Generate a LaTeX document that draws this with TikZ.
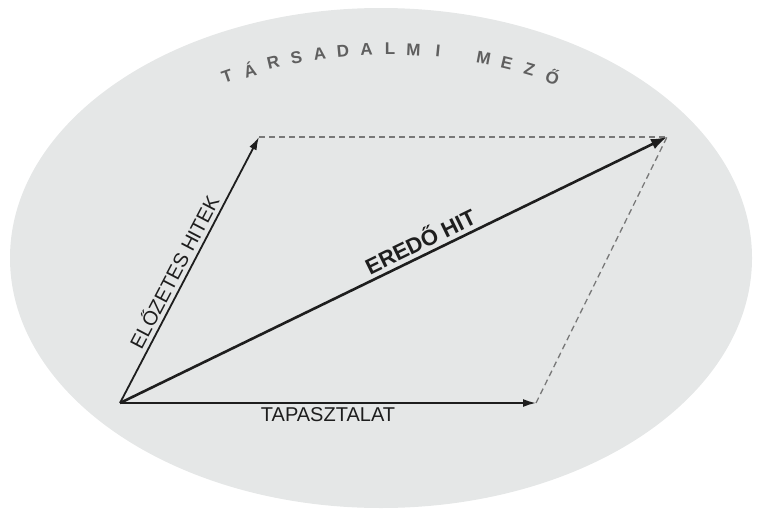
\documentclass[tikz,border=0pt]{standalone}
\usepackage{fontspec}
\setmainfont{Liberation Sans}
\usetikzlibrary{arrows.meta}
\definecolor{field}{RGB}{229,231,231}
\definecolor{ink}{RGB}{30,30,30}
\definecolor{titlegray}{RGB}{95,95,95}
\definecolor{dashgray}{RGB}{120,120,120}
\tikzset{
  vec/.style={draw=ink, line width=1.8pt, -{Latex[length=13pt,width=8pt]}},
  resvec/.style={draw=ink, line width=2.6pt, -{Latex[length=16pt,width=11pt]}},
  guide/.style={draw=dashgray, line width=1.3pt, dash pattern=on 6pt off 4pt},
  lbl/.style={font=\fontsize{20}{22}\selectfont, text=ink, inner sep=4pt},
  reslbl/.style={font=\bfseries\fontsize{22}{24}\selectfont, text=ink, inner sep=4pt},
  titleletter/.style={font=\bfseries\fontsize{17}{18}\selectfont, text=titlegray, inner sep=0pt}
}
\begin{document}
\begin{tikzpicture}[x=1pt,y=-1pt]
\useasboundingbox (0,0) rectangle (759,514);
\fill[field] (381,258) ellipse [x radius=371, y radius=250];
% title letters along an arc
\foreach \ch/\a in {T/-19, Á/-16.3, R/-13.5, S/-10.8, A/-8.1, D/-5.4, A/-2.7, L/0, M/2.7, I/5.5, M/10.8, E/13.5, Z/16.2, Ő/19}{
  \node[titleletter, rotate=-\a] at ({390+500*sin(\a)}, {549-500*cos(\a)}) {\ch};
}
\coordinate (O) at (120,403);
\coordinate (A) at (259,137);
\coordinate (B) at (536,403);
\coordinate (C) at (667,137);
\draw[guide] (A) -- (C);
\draw[guide] (B) -- (C);
\draw[vec] (O) -- node[lbl, sloped, above, pos=0.47] (lA) {ELŐZETES HITEK} (A);
\draw[vec] (O) -- node[lbl, below, pos=0.5] (lB) {TAPASZTALAT} (B);
\draw[resvec] (O) -- node[reslbl, sloped, above, pos=0.56] (lC) {EREDŐ HIT} (C);
\end{tikzpicture}
\end{document}
